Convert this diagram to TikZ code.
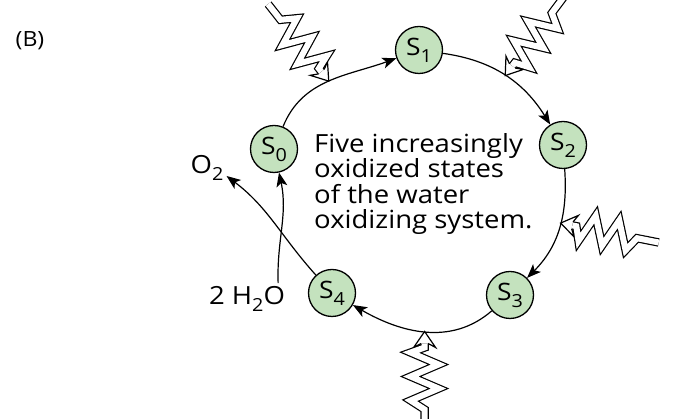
\documentclass[tikz,border=0pt]{standalone}
\usepackage{fontspec}
\setmainfont{Open Sans}[FakeStretch=1.1]
\usepackage{tikz}
\usetikzlibrary{arrows.meta,calc}
\definecolor{stategreen}{RGB}{196,226,190}
\newcommand{\lowsub}[1]{\raisebox{-7pt}{\fontsize{18}{18}\selectfont #1}}
\tikzset{
 pics/bolt/.style={code={
  \draw[fill=white,line width=1.2pt,line join=miter] (-12,3.6) -- (-16,11) -- (0,0) -- (-16,-11) -- (-12,-3.6);
  \draw[double=white,double distance=6pt,line width=1.2pt,line join=miter]
   (-12,0) -- (-16,0) -- (-21,14) -- (-33,-14) -- (-45,14) -- (-57,-14) -- (-69,14) -- (-78,0) -- (-#1,0);
 }}
}
\begin{document}
\begin{tikzpicture}[
 x=1pt,y=1pt,
 state/.style={circle,draw,line width=1.3pt,fill=stategreen,minimum size=47pt,inner sep=0pt,font=\fontsize{24}{24}\selectfont},
 label/.style={inner sep=3pt,font=\fontsize{25}{25}\selectfont},
 arrow/.style={-{Stealth[length=14pt,width=11pt,inset=3.5pt]},line width=1.2pt}
]
\useasboundingbox[fill=white] (0,0) rectangle (673,419);
\node[font=\fontsize{21}{21}\selectfont] (panel) at (30,378) {(B)};
\node[state] (s0) at (274,270) {S\lowsub{0}};
\node[state] (s1) at (419,369) {S\lowsub{1}};
\node[state] (s2) at (563,274) {S\lowsub{2}};
\node[state] (s3) at (510,124) {S\lowsub{3}};
\node[state] (s4) at (332,126) {S\lowsub{4}};
\node[label] (o2) at (207,251) {O\lowsub{2}};
\node[label] (h2o) at (247,120) {2 H\lowsub{2}O};
\node[align=left,anchor=north west,inner sep=0pt,font=\fontsize{25}{25.5}\selectfont] (caption) at (314,286)
 {Five increasingly\\oxidized states\\of the water\\oxidizing system.};
\draw[arrow] (s0) to[out=68,in=200] coordinate[pos=0.5] (hit1) (s1);
\draw[arrow] (s1) to[out=-8,in=122] coordinate[pos=0.5] (hit2) (s2);
\draw[arrow] (s2) to[out=-86,in=45] coordinate[pos=0.45] (hit3) (s3);
\draw[arrow] (s3) to[out=-139,in=-30] coordinate[pos=0.5] (hit4) (s4);
\draw[arrow] (s4) to[out=132,in=-37] ([yshift=-8pt]o2.east);
\draw[arrow] ([xshift=-10pt]h2o.north east) to[out=92,in=-78] (s0);
\pic[rotate=-51.8] at (hit1) {bolt=98};
\pic[rotate=233.3] at (hit2) {bolt=98};
\pic[rotate=168.8] at (hit3) {bolt=100};
\pic[rotate=90] at (hit4) {bolt=100};
\end{tikzpicture}
\end{document}
